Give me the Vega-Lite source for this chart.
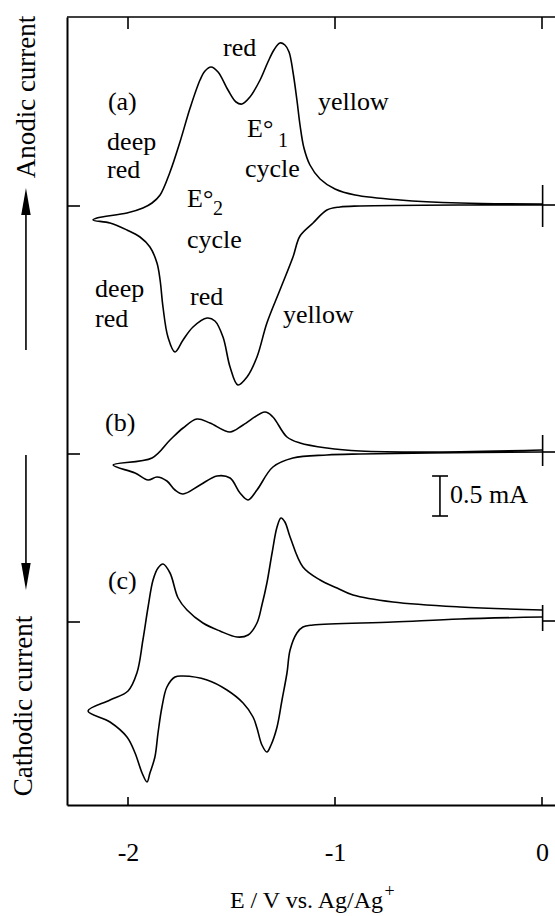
{
  "$schema": "https://vega.github.io/schema/vega-lite/v6.json",
  "width": 488,
  "height": 788,
  "autosize": {"type": "none"},
  "padding": {"left": 67, "top": 17, "right": 0, "bottom": 111},
  "background": "white",
  "config": {"view": {"stroke": null}},
  "datasets": {
    "curves": [
      {"c":"a","k":1,"E":0,"i":5.225},{"c":"a","k":2,"E":-0.396,"i":5.225},{"c":"a","k":3,"E":-0.879,"i":5.2125},{"c":"a","k":4,"E":-0.976,"i":5.2},{"c":"a","k":5,"E":-1.039,"i":5.1625},{"c":"a","k":6,"E":-1.106,"i":5.0},{"c":"a","k":7,"E":-1.169,"i":4.8375},{"c":"a","k":8,"E":-1.203,"i":4.575},{"c":"a","k":9,"E":-1.266,"i":4.1625},{"c":"a","k":10,"E":-1.329,"i":3.75},{"c":"a","k":11,"E":-1.377,"i":3.325},{"c":"a","k":12,"E":-1.425,"i":3.075},{"c":"a","k":13,"E":-1.469,"i":2.975},{"c":"a","k":14,"E":-1.507,"i":3.2},{"c":"a","k":15,"E":-1.541,"i":3.575},{"c":"a","k":16,"E":-1.58,"i":3.775},{"c":"a","k":17,"E":-1.618,"i":3.8125},{"c":"a","k":18,"E":-1.686,"i":3.7},{"c":"a","k":19,"E":-1.734,"i":3.5375},{"c":"a","k":20,"E":-1.773,"i":3.3875},{"c":"a","k":21,"E":-1.807,"i":3.575},{"c":"a","k":22,"E":-1.831,"i":3.95},{"c":"a","k":23,"E":-1.845,"i":4.2875},{"c":"a","k":24,"E":-1.86,"i":4.5},{"c":"a","k":25,"E":-1.894,"i":4.7},{"c":"a","k":26,"E":-1.942,"i":4.825},{"c":"a","k":27,"E":-2.005,"i":4.9125},{"c":"a","k":28,"E":-2.087,"i":5.0},{"c":"a","k":29,"E":-2.169,"i":5.0375},{"c":"a","k":30,"E":-2.15,"i":5.0625},{"c":"a","k":31,"E":-2.005,"i":5.125},{"c":"a","k":32,"E":-1.928,"i":5.1875},{"c":"a","k":33,"E":-1.884,"i":5.25},{"c":"a","k":34,"E":-1.845,"i":5.35},{"c":"a","k":35,"E":-1.797,"i":5.6375},{"c":"a","k":36,"E":-1.749,"i":6.0125},{"c":"a","k":37,"E":-1.7,"i":6.4375},{"c":"a","k":38,"E":-1.652,"i":6.7875},{"c":"a","k":39,"E":-1.628,"i":6.9},{"c":"a","k":40,"E":-1.599,"i":6.95},{"c":"a","k":41,"E":-1.565,"i":6.8875},{"c":"a","k":42,"E":-1.517,"i":6.6625},{"c":"a","k":43,"E":-1.478,"i":6.5125},{"c":"a","k":44,"E":-1.449,"i":6.4875},{"c":"a","k":45,"E":-1.411,"i":6.575},{"c":"a","k":46,"E":-1.362,"i":6.7875},{"c":"a","k":47,"E":-1.324,"i":7.0125},{"c":"a","k":48,"E":-1.295,"i":7.1625},{"c":"a","k":49,"E":-1.266,"i":7.25},{"c":"a","k":50,"E":-1.242,"i":7.225},{"c":"a","k":51,"E":-1.222,"i":7.1375},{"c":"a","k":52,"E":-1.203,"i":6.8875},{"c":"a","k":53,"E":-1.184,"i":6.5375},{"c":"a","k":54,"E":-1.169,"i":6.225},{"c":"a","k":55,"E":-1.15,"i":5.9375},{"c":"a","k":56,"E":-1.121,"i":5.725},{"c":"a","k":57,"E":-1.072,"i":5.55},{"c":"a","k":58,"E":-1.0,"i":5.425},{"c":"a","k":59,"E":-0.903,"i":5.35},{"c":"a","k":60,"E":-0.686,"i":5.2875},{"c":"a","k":61,"E":-0.396,"i":5.25},{"c":"a","k":62,"E":0,"i":5.2375},
      {"c":"b","k":1,"E":0,"i":2.1375},{"c":"b","k":2,"E":-0.541,"i":2.125},{"c":"b","k":3,"E":-0.879,"i":2.1125},{"c":"b","k":4,"E":-1.039,"i":2.1},{"c":"b","k":5,"E":-1.203,"i":2.0625},{"c":"b","k":6,"E":-1.3,"i":1.95},{"c":"b","k":7,"E":-1.377,"i":1.6625},{"c":"b","k":8,"E":-1.42,"i":1.5375},{"c":"b","k":9,"E":-1.459,"i":1.625},{"c":"b","k":10,"E":-1.507,"i":1.8125},{"c":"b","k":11,"E":-1.57,"i":1.8375},{"c":"b","k":12,"E":-1.652,"i":1.725},{"c":"b","k":13,"E":-1.734,"i":1.6125},{"c":"b","k":14,"E":-1.773,"i":1.6625},{"c":"b","k":15,"E":-1.812,"i":1.775},{"c":"b","k":16,"E":-1.86,"i":1.825},{"c":"b","k":17,"E":-1.903,"i":1.7875},{"c":"b","k":18,"E":-1.966,"i":1.875},{"c":"b","k":19,"E":-2.072,"i":1.975},{"c":"b","k":20,"E":-1.884,"i":2.0625},{"c":"b","k":21,"E":-1.797,"i":2.2875},{"c":"b","k":22,"E":-1.734,"i":2.4375},{"c":"b","k":23,"E":-1.667,"i":2.55},{"c":"b","k":24,"E":-1.604,"i":2.5},{"c":"b","k":25,"E":-1.507,"i":2.3875},{"c":"b","k":26,"E":-1.444,"i":2.475},{"c":"b","k":27,"E":-1.338,"i":2.6375},{"c":"b","k":28,"E":-1.3,"i":2.575},{"c":"b","k":29,"E":-1.232,"i":2.325},{"c":"b","k":30,"E":-1.169,"i":2.25},{"c":"b","k":31,"E":-1.039,"i":2.1875},{"c":"b","k":32,"E":-0.879,"i":2.15},{"c":"b","k":33,"E":-0.556,"i":2.1375},{"c":"b","k":34,"E":0,"i":2.1625},
      {"c":"c","k":1,"E":0,"i":0.075},{"c":"c","k":2,"E":-0.396,"i":0.05},{"c":"c","k":3,"E":-0.72,"i":0.0125},{"c":"c","k":4,"E":-1.106,"i":-0.025},{"c":"c","k":5,"E":-1.155,"i":-0.05},{"c":"c","k":6,"E":-1.184,"i":-0.125},{"c":"c","k":7,"E":-1.217,"i":-0.3375},{"c":"c","k":8,"E":-1.232,"i":-0.625},{"c":"c","k":9,"E":-1.256,"i":-0.9625},{"c":"c","k":10,"E":-1.28,"i":-1.3},{"c":"c","k":11,"E":-1.309,"i":-1.525},{"c":"c","k":12,"E":-1.329,"i":-1.6125},{"c":"c","k":13,"E":-1.353,"i":-1.525},{"c":"c","k":14,"E":-1.377,"i":-1.3125},{"c":"c","k":15,"E":-1.396,"i":-1.175},{"c":"c","k":16,"E":-1.444,"i":-1.0},{"c":"c","k":17,"E":-1.522,"i":-0.8375},{"c":"c","k":18,"E":-1.618,"i":-0.7125},{"c":"c","k":19,"E":-1.734,"i":-0.6625},{"c":"c","k":20,"E":-1.773,"i":-0.675},{"c":"c","k":21,"E":-1.812,"i":-0.8},{"c":"c","k":22,"E":-1.836,"i":-1.05},{"c":"c","k":23,"E":-1.855,"i":-1.375},{"c":"c","k":24,"E":-1.87,"i":-1.675},{"c":"c","k":25,"E":-1.894,"i":-1.875},{"c":"c","k":26,"E":-1.908,"i":-1.9875},{"c":"c","k":27,"E":-1.932,"i":-1.875},{"c":"c","k":28,"E":-1.966,"i":-1.625},{"c":"c","k":29,"E":-2.005,"i":-1.425},{"c":"c","k":30,"E":-2.087,"i":-1.2375},{"c":"c","k":31,"E":-2.193,"i":-1.1},{"c":"c","k":32,"E":-2.087,"i":-0.9625},{"c":"c","k":33,"E":-2.0,"i":-0.85},{"c":"c","k":34,"E":-1.957,"i":-0.625},{"c":"c","k":35,"E":-1.928,"i":-0.2125},{"c":"c","k":36,"E":-1.903,"i":0.2},{"c":"c","k":37,"E":-1.879,"i":0.5375},{"c":"c","k":38,"E":-1.855,"i":0.6875},{"c":"c","k":39,"E":-1.831,"i":0.7375},{"c":"c","k":40,"E":-1.797,"i":0.625},{"c":"c","k":41,"E":-1.758,"i":0.3125},{"c":"c","k":42,"E":-1.715,"i":0.1625},{"c":"c","k":43,"E":-1.638,"i":0},{"c":"c","k":44,"E":-1.556,"i":-0.1},{"c":"c","k":45,"E":-1.473,"i":-0.175},{"c":"c","k":46,"E":-1.42,"i":-0.15},{"c":"c","k":47,"E":-1.377,"i":0},{"c":"c","k":48,"E":-1.353,"i":0.225},{"c":"c","k":49,"E":-1.329,"i":0.5},{"c":"c","k":50,"E":-1.304,"i":0.875},{"c":"c","k":51,"E":-1.28,"i":1.2},{"c":"c","k":52,"E":-1.261,"i":1.3125},{"c":"c","k":53,"E":-1.242,"i":1.2625},{"c":"c","k":54,"E":-1.217,"i":1.075},{"c":"c","k":55,"E":-1.155,"i":0.7},{"c":"c","k":56,"E":-1.072,"i":0.5375},{"c":"c","k":57,"E":-0.99,"i":0.4375},{"c":"c","k":58,"E":-0.913,"i":0.35},{"c":"c","k":59,"E":-0.72,"i":0.2625},{"c":"c","k":60,"E":-0.396,"i":0.2},{"c":"c","k":61,"E":0,"i":0.1625}
    ],
    "segs": [
      {"E":-2.2947,"E2":0.0628,"i":7.575,"i2":7.575},
      {"E":-2,"E2":-2,"i":7.575,"i2":7.425},
      {"E":-1,"E2":-1,"i":7.575,"i2":7.425},
      {"E":0,"E2":0,"i":7.575,"i2":7.425},
      {"E":-2,"E2":-2,"i":-2.275,"i2":-2.175},
      {"E":-1,"E2":-1,"i":-2.275,"i2":-2.175},
      {"E":0,"E2":0,"i":-2.275,"i2":-2.175},
      {"E":-2.2947,"E2":-2.232,"i":5.2125,"i2":5.2125},
      {"E":-2.2947,"E2":-2.232,"i":2.1125,"i2":2.1125},
      {"E":-2.2947,"E2":-2.232,"i":0.0125,"i2":0.0125},
      {"E":0.003,"E2":0.003,"i":4.95,"i2":5.475},
      {"E":0,"E2":0.0628,"i":5.225,"i2":5.225},
      {"E":0.003,"E2":0.003,"i":1.9625,"i2":2.35},
      {"E":0,"E2":0.0628,"i":2.1375,"i2":2.1375},
      {"E":0.003,"E2":0.003,"i":-0.1,"i2":0.225},
      {"E":0,"E2":0.0628,"i":0.025,"i2":0.025},
      {"E":-0.493,"E2":-0.493,"i":1.3375,"i2":1.8375},
      {"E":-0.531,"E2":-0.454,"i":1.3375,"i2":1.3375},
      {"E":-0.531,"E2":-0.454,"i":1.8375,"i2":1.8375},
      {"E":-2.493,"E2":-2.493,"i":3.4125,"i2":5.3},
      {"E":-2.493,"E2":-2.493,"i":2.1,"i2":0.65}
    ],
    "labels": [
      {"t":"(a)","E":-2.097,"i":6.4125},
      {"t":"red","E":-1.541,"i":7.0875},
      {"t":"yellow","E":-1.082,"i":6.4125},
      {"t":"deep","E":-2.101,"i":5.9125},
      {"t":"red","E":-2.101,"i":5.5625},
      {"t":"E°","E":-1.425,"i":6.075},
      {"t":"cycle","E":-1.435,"i":5.575},
      {"t":"E°","E":-1.715,"i":5.2},
      {"t":"cycle","E":-1.715,"i":4.6875},
      {"t":"deep","E":-2.159,"i":4.075},
      {"t":"red","E":-2.159,"i":3.7},
      {"t":"red","E":-1.7,"i":3.975},
      {"t":"yellow","E":-1.251,"i":3.75},
      {"t":"(b)","E":-2.111,"i":2.4},
      {"t":"(c)","E":-2.097,"i":0.425},
      {"t":"0.5 mA","E":-0.444,"i":1.5}
    ],
    "subs": [
      {"t":"1","E":-1.275,"i":5.95},
      {"t":"2","E":-1.589,"i":5.1}
    ],
    "sup": [
      {"t":"+","E":-0.761,"i":-3.425}
    ],
    "vlabels": [
      {"t":"Anodic current","E":-2.488,"i":6.575},
      {"t":"Cathodic current","E":-2.502,"i":-1.0375}
    ],
    "heads": [
      {"dir":"up","E":-2.493,"i":5.269},
      {"dir":"down","E":-2.493,"i":0.581}
    ]
  },
  "layer": [
    {
      "data": {"name": "curves"},
      "mark": {"type": "line", "color": "black", "strokeWidth": 1.6, "interpolate": "catmull-rom"},
      "encoding": {
        "x": {"field": "E", "type": "quantitative",
          "scale": {"domain": [-2.2947, 0.0628], "nice": false, "zero": false},
          "axis": {"orient": "bottom", "values": [-2, -1, 0], "ticks": false, "tickSize": 0, "grid": false,
            "domain": true, "domainColor": "black", "domainWidth": 2,
            "labelFont": "Liberation Serif", "labelFontSize": 26, "labelColor": "black",
            "labelBaseline": "alphabetic", "labelPadding": 55, "labelAlign": "center",
            "labelExpr": "datum.value < 0 ? '-' + (-datum.value) : '' + datum.value",
            "title": "E / V vs. Ag/Ag", "titleFont": "Liberation Serif", "titleFontSize": 24,
            "titleFontWeight": "normal", "titleColor": "black", "titleX": 239, "titleY": 102,
            "titleBaseline": "alphabetic", "titleAlign": "center"}},
        "y": {"field": "i", "type": "quantitative",
          "scale": {"domain": [-2.275, 7.575], "nice": false, "zero": false},
          "axis": {"orient": "left", "ticks": false, "labels": false, "grid": false, "title": null,
            "domain": true, "domainColor": "black", "domainWidth": 2}},
        "detail": {"field": "c"},
        "order": {"field": "k", "type": "quantitative"}
      }
    },
    {
      "data": {"name": "segs"},
      "mark": {"type": "rule", "color": "black", "strokeWidth": 1.6},
      "encoding": {
        "x": {"field": "E", "type": "quantitative"},
        "x2": {"field": "E2"},
        "y": {"field": "i", "type": "quantitative"},
        "y2": {"field": "i2"}
      }
    },
    {
      "data": {"name": "labels"},
      "mark": {"type": "text", "font": "Liberation Serif", "fontSize": 26, "align": "left", "baseline": "alphabetic", "color": "black"},
      "encoding": {
        "x": {"field": "E", "type": "quantitative"},
        "y": {"field": "i", "type": "quantitative"},
        "text": {"field": "t"}
      }
    },
    {
      "data": {"name": "subs"},
      "mark": {"type": "text", "font": "Liberation Serif", "fontSize": 20, "align": "left", "baseline": "alphabetic", "color": "black"},
      "encoding": {
        "x": {"field": "E", "type": "quantitative"},
        "y": {"field": "i", "type": "quantitative"},
        "text": {"field": "t"}
      }
    },
    {
      "data": {"name": "sup"},
      "mark": {"type": "text", "font": "Liberation Serif", "fontSize": 18, "align": "left", "baseline": "alphabetic", "color": "black"},
      "encoding": {
        "x": {"field": "E", "type": "quantitative"},
        "y": {"field": "i", "type": "quantitative"},
        "text": {"field": "t"}
      }
    },
    {
      "data": {"name": "vlabels"},
      "mark": {"type": "text", "font": "Liberation Serif", "fontSize": 27, "align": "center", "baseline": "middle", "angle": 270, "color": "black"},
      "encoding": {
        "x": {"field": "E", "type": "quantitative"},
        "y": {"field": "i", "type": "quantitative"},
        "text": {"field": "t"}
      }
    },
    {
      "data": {"name": "heads"},
      "transform": [{"filter": "datum.dir == 'up'"}],
      "mark": {"type": "point", "shape": "M0,-1L0.35,1L-0.35,1Z", "size": 729, "filled": true, "color": "black", "opacity": 1, "strokeWidth": 0},
      "encoding": {
        "x": {"field": "E", "type": "quantitative"},
        "y": {"field": "i", "type": "quantitative"}
      }
    },
    {
      "data": {"name": "heads"},
      "transform": [{"filter": "datum.dir == 'down'"}],
      "mark": {"type": "point", "shape": "M0,1L0.35,-1L-0.35,-1Z", "size": 729, "filled": true, "color": "black", "opacity": 1, "strokeWidth": 0},
      "encoding": {
        "x": {"field": "E", "type": "quantitative"},
        "y": {"field": "i", "type": "quantitative"}
      }
    }
  ]
}
